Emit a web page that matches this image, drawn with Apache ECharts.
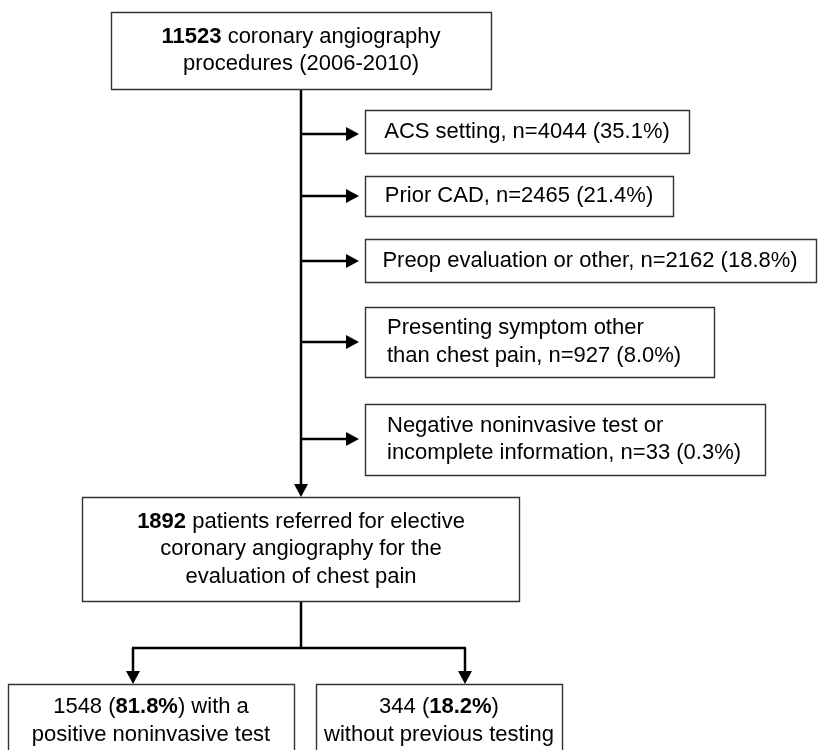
<!DOCTYPE html>
<html><head><meta charset="utf-8">
<script src="https://cdn.jsdelivr.net/npm/echarts@6/dist/echarts.min.js"></script>
<style>html,body{margin:0;padding:0;background:#fff}#c{width:821px;height:750px}</style>
</head><body><div id="c"></div>
<script>
// ---- data ----
const counts = [11523, 4044, 2465, 2162, 927, 33, 1892, 1548, 344];
const percents = [null, 35.1, 21.4, 18.8, 8.0, 0.3, null, 81.8, 18.2];
const labels = [
  '{b|' + counts[0] + '} coronary angiography\nprocedures (2006-2010)',
  'ACS setting, n=' + counts[1] + ' (' + percents[1].toFixed(1) + '%)',
  'Prior CAD, n=' + counts[2] + ' (' + percents[2].toFixed(1) + '%)',
  'Preop evaluation or other, n=' + counts[3] + ' (' + percents[3].toFixed(1) + '%)',
  'Presenting symptom other\nthan chest pain, n=' + counts[4] + ' (' + percents[4].toFixed(1) + '%)',
  'Negative noninvasive test or\nincomplete information, n=' + counts[5] + ' (' + percents[5].toFixed(1) + '%)',
  '{b|' + counts[6] + '} patients referred for elective\ncoronary angiography for the\nevaluation of chest pain',
  counts[7] + ' ({b|' + percents[7].toFixed(1) + '%}) with a\npositive noninvasive test',
  counts[8] + ' ({b|' + percents[8].toFixed(1) + '%})\nwithout previous testing'
];

// ---- layout (chart coordinates) ----
// [x0, y0, x1, y1, textX, textY, align]
const boxLayout = [
  [111, 12, 491, 89, 301, 50.5, 'center'],
  [365, 110, 689, 153, 527, 132, 'center'],
  [365, 176, 673, 216, 519, 196, 'center'],
  [365, 239, 816, 282, 590, 260.5, 'center'],
  [365, 307, 714, 377, 387, 342, 'left'],
  [365, 404, 765, 475, 387, 439.5, 'left'],
  [82, 497, 519, 601, 301, 549, 'center'],
  [8, 684, 294, 770, 151, 721, 'center'],
  [316, 684, 562, 770, 439, 721, 'center']
];
// [x1, y1, x2, y2, arrowAtEnd]
const connectors = [
  [301, 89, 301, 497, 1],
  [301, 134, 359, 134, 1],
  [301, 196, 359, 196, 1],
  [301, 261, 359, 261, 1],
  [301, 342, 359, 342, 1],
  [301, 439, 359, 439, 1],
  [301, 601, 301, 648, 0],
  [132, 648, 466, 648, 0],
  [133, 648, 133, 684, 1],
  [465, 648, 465, 684, 1]
];

const FONT = '"Liberation Sans", Arial, Helvetica, sans-serif';
const chart = echarts.init(document.getElementById('c'));
chart.setOption({
  animation: false,
  backgroundColor: '#fff',
  grid: {left: 0, right: 0, top: 0, bottom: 0},
  xAxis: {type: 'value', min: 0, max: 821, show: false},
  yAxis: {type: 'value', min: 0, max: 750, inverse: true, show: false},
  series: [
    {
      type: 'custom', z: 1, clip: false,
      data: connectors.map(c => [c[0], c[1], c[2], c[3]]),
      renderItem(params, api) {
        const s = connectors[params.dataIndex];
        const a = api.coord([s[0], s[1]]), b = api.coord([s[2], s[3]]);
        const lw = 2.5;
        if (!s[4]) {
          return {type: 'line', shape: {x1: a[0], y1: a[1], x2: b[0], y2: b[1]}, style: {stroke: '#000', lineWidth: lw}};
        }
        const dx = b[0] - a[0], dy = b[1] - a[1], L = Math.hypot(dx, dy), ux = dx / L, uy = dy / L;
        const hl = 13, hw = 7;
        const bx = b[0] - ux * hl, by = b[1] - uy * hl;
        return {type: 'group', children: [
          {type: 'line', shape: {x1: a[0], y1: a[1], x2: bx + ux, y2: by + uy}, style: {stroke: '#000', lineWidth: lw}},
          {type: 'polygon', shape: {points: [[b[0], b[1]], [bx - uy * hw, by + ux * hw], [bx + uy * hw, by - ux * hw]]}, style: {fill: '#000'}}
        ]};
      }
    },
    {
      type: 'custom', z: 2, clip: false,
      data: boxLayout.map((b, i) => [b[0], b[1], b[2], b[3], counts[i]]),
      renderItem(params, api) {
        const i = params.dataIndex;
        const b = boxLayout[i];
        const p0 = api.coord([b[0], b[1]]), p1 = api.coord([b[2], b[3]]);
        const x = Math.min(p0[0], p1[0]), y = Math.min(p0[1], p1[1]);
        const w = Math.abs(p1[0] - p0[0]), h = Math.abs(p1[1] - p0[1]);
        const tc = api.coord([b[4], b[5]]);
        return {type: 'group', children: [
          {type: 'rect', shape: {x: Math.round(x) + 0.5, y: Math.round(y) + 0.5, width: Math.round(w), height: Math.round(h)}, style: {fill: '#fff', stroke: '#333', lineWidth: 1.4}},
          {type: 'text', x: tc[0], y: tc[1], style: {
            text: labels[i], fontFamily: FONT, fontSize: 22, lineHeight: 27.5, fill: '#000',
            align: b[6], verticalAlign: 'middle',
            rich: {b: {fontWeight: 'bold', fontFamily: FONT, fontSize: 22, lineHeight: 27.5, fill: '#000'}}
          }}
        ]};
      }
    }
  ]
});
</script>
</body></html>
